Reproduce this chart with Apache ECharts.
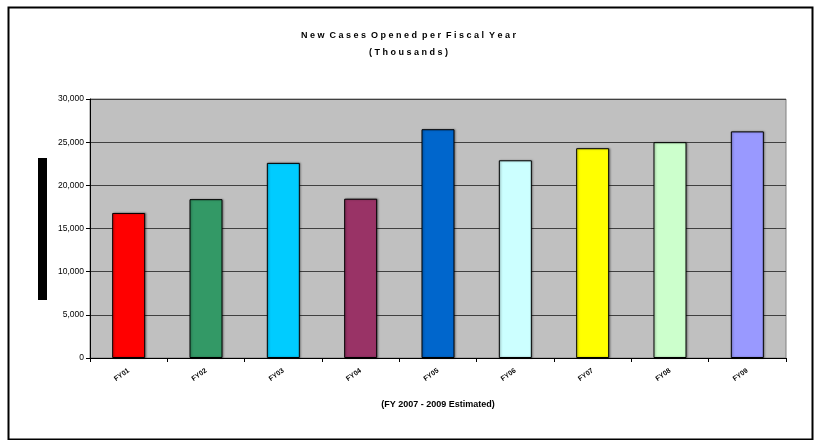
<!DOCTYPE html>
<html>
<head>
<meta charset="utf-8">
<script src="https://cdn.jsdelivr.net/npm/echarts@6/dist/echarts.min.js"></script>
<style>
  html, body { margin: 0; padding: 0; background: #ffffff; }
  #chart { width: 817px; height: 440px; }
</style>
</head>
<body>
<div id="chart"></div>
<script>
// Fiscal years (FY 2007 - 2009 are estimates)
const categories = ['FY01', 'FY02', 'FY03', 'FY04', 'FY05', 'FY06', 'FY07', 'FY08', 'FY09'];
// New cases opened per fiscal year
const newCases = [16800, 18400, 22600, 18450, 26500, 22900, 24300, 25000, 26250];
// One fill colour per year
const barColors = ['#FF0000', '#339966', '#00CCFF', '#993366', '#0066CC', '#CCFFFF', '#FFFF00', '#CCFFCC', '#9999FF'];
const yTicks = [0, 5000, 10000, 15000, 20000, 25000, 30000];

const chart = echarts.init(document.getElementById('chart'), null, { renderer: 'canvas' });

const fmt = v => v.toLocaleString('en-US');

chart.setOption({
  backgroundColor: '#ffffff',
  animation: false,
  title: {
    text: 'N e w  C a s e s  O p e n e d  p e r  F i s c a l  Y e a r\n( T h o u s a n d s )',
    left: 'center',
    top: 22,
    textStyle: {
      fontFamily: 'Liberation Sans, Arial, sans-serif',
      fontSize: 9,
      fontWeight: 'bold',
      color: '#000000',
      lineHeight: 17
    }
  },
  graphic: [
    {
      type: 'rect',
      left: 6, top: 5,
      shape: { width: 804, height: 432 },
      style: { fill: 'none', stroke: '#000000', lineWidth: 2 },
      silent: true
    },
    {
      type: 'rect',
      left: 38, top: 158,
      shape: { width: 9, height: 142 },
      style: { fill: '#000000' },
      silent: true
    }
  ],
  grid: {
    left: 90, right: 31, top: 99, bottom: 82,
    show: true,
    backgroundColor: '#C0C0C0',
    borderColor: '#808080',
    borderWidth: 1
  },
  xAxis: {
    type: 'category',
    data: categories,
    name: '(FY 2007 - 2009 Estimated)',
    nameLocation: 'middle',
    nameGap: 42,
    nameTextStyle: {
      fontFamily: 'Liberation Sans, Arial, sans-serif',
      fontSize: 9,
      fontWeight: 'bold',
      color: '#000000'
    },
    axisLine: { lineStyle: { color: '#000000', width: 1 } },
    axisTick: { show: true, length: 4, lineStyle: { color: '#000000' } },
    axisLabel: {
      rotate: 35,
      margin: 12,
      fontFamily: 'Liberation Sans, Arial, sans-serif',
      fontSize: 7,
      fontWeight: 'bold',
      color: '#000000'
    },
    splitLine: { show: false }
  },
  yAxis: {
    type: 'value',
    min: yTicks[0],
    max: yTicks[yTicks.length - 1],
    interval: yTicks[1] - yTicks[0],
    axisLine: { show: true, lineStyle: { color: '#000000', width: 1 } },
    axisTick: { show: true, inside: false, length: 4, lineStyle: { color: '#000000' } },
    axisLabel: {
      formatter: fmt,
      margin: 6,
      fontFamily: 'Liberation Sans, Arial, sans-serif',
      fontSize: 8.5,
      color: '#000000'
    },
    splitLine: { show: true, lineStyle: { color: '#404040', width: 1 } }
  },
  series: [
    {
      type: 'bar',
      data: newCases.map((v, i) => ({
        value: v,
        itemStyle: { color: barColors[i] }
      })),
      barWidth: 33,
      itemStyle: {
        borderColor: '#000000',
        borderWidth: 1,
        shadowColor: 'rgba(0,0,0,0.35)',
        shadowBlur: 2,
        shadowOffsetX: 1,
        shadowOffsetY: 0
      }
    }
  ]
});
</script>
</body>
</html>
